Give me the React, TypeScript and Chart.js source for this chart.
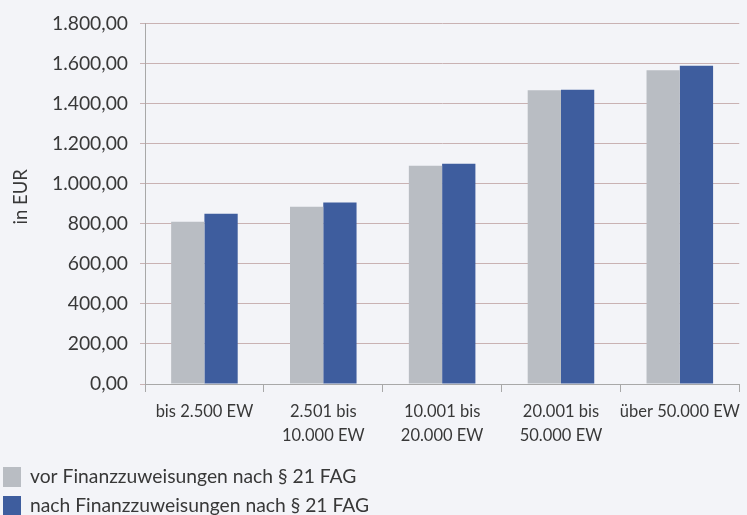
import React, { useEffect, useRef } from "react";
import { Chart, registerables } from "chart.js";

Chart.register(...registerables);

// Gemeindegrößenklassen
const categories: (string | string[])[] = [
  "bis 2.500 EW",
  ["2.501 bis", "10.000 EW"],
  ["10.001 bis", "20.000 EW"],
  ["20.001 bis", "50.000 EW"],
  "über 50.000 EW",
];

const seriesNames = [
  "vor Finanzzuweisungen nach § 21 FAG",
  "nach Finanzzuweisungen nach § 21 FAG",
];

const yTitle = "in EUR";

// EUR je Einwohner
const vorValues = [810, 885, 1090, 1467, 1567];
const nachValues = [850, 907, 1100, 1470, 1590];

const yMin = 0;
const yMax = 1800;
const yStep = 200;

const GREY = "#b9bdc3";
const BLUE = "#3e5d9e";
const TEXT = "#383838";
const FONT = "Lato, 'Open Sans', sans-serif";

function formatDe(v: number): string {
  const fixed = Math.abs(v).toFixed(2);
  const [intPart, dec] = fixed.split(".");
  const grouped = intPart.replace(/\B(?=(\d{3})+(?!\d))/g, ".");
  return (v < 0 ? "-" : "") + grouped + "," + dec;
}

// Draws the legend as a vertical list in the lower left corner
const bottomLegend = {
  id: "bottomLegend",
  afterDraw(chart: Chart) {
    const ctx = chart.ctx;
    const colors = chart.data.datasets.map((d) => d.backgroundColor as string);
    const labels = chart.data.datasets.map((d) => d.label as string);
    ctx.save();
    ctx.font = `19.3px ${FONT}`;
    ctx.textBaseline = "middle";
    ctx.textAlign = "left";
    labels.forEach((label, i) => {
      const cy = 477 + i * 29;
      ctx.fillStyle = colors[i];
      ctx.fillRect(3, cy - 10, 18, 20);
      ctx.fillStyle = TEXT;
      ctx.fillText(label, 30, cy);
    });
    ctx.restore();
  },
};

// Rotated unit label beside the value axis
const unitLabel = {
  id: "unitLabel",
  afterDraw(chart: Chart) {
    const ctx = chart.ctx;
    const area = chart.chartArea;
    ctx.save();
    ctx.font = `18.5px ${FONT}`;
    ctx.fillStyle = TEXT;
    ctx.textAlign = "center";
    ctx.textBaseline = "middle";
    ctx.translate(21.5, (area.top + area.bottom) / 2 - 7);
    ctx.rotate(-Math.PI / 2);
    ctx.fillText(yTitle, 0, 0);
    ctx.restore();
  },
};

// Soft paper background
const paperBackground = {
  id: "paperBackground",
  beforeDraw(chart: Chart) {
    const ctx = chart.ctx;
    ctx.save();
    ctx.fillStyle = "#f3f4f8";
    ctx.fillRect(0, 0, chart.width, chart.height);
    ctx.restore();
  },
};

export default function App() {
  const canvasRef = useRef<HTMLCanvasElement | null>(null);

  useEffect(() => {
    const canvas = canvasRef.current;
    if (!canvas) return;
    const chart = new Chart(canvas, {
      type: "bar",
      data: {
        labels: categories,
        datasets: [
          {
            label: seriesNames[0],
            data: vorValues,
            backgroundColor: GREY,
            categoryPercentage: 0.56,
            barPercentage: 1,
          },
          {
            label: seriesNames[1],
            data: nachValues,
            backgroundColor: BLUE,
            categoryPercentage: 0.56,
            barPercentage: 1,
          },
        ],
      },
      options: {
        responsive: false,
        animation: false,
        devicePixelRatio: 1,
        layout: { padding: { left: 0, right: 2, top: 21, bottom: 0 } },
        plugins: {
          legend: { display: false },
          tooltip: { enabled: false },
        },
        scales: {
          x: {
            grid: {
              display: true,
              drawOnChartArea: false,
              drawTicks: true,
              tickLength: 8,
              color: "#a8a8a8",
              offset: true,
            },
            border: { display: true, color: "#a8a8a8", width: 1 },
            ticks: {
              color: TEXT,
              font: { family: FONT, size: 16.5, lineHeight: 1.5 },
              padding: 7,
              maxRotation: 0,
              autoSkip: false,
            },
            afterFit(scale: any) {
              scale.height = 131;
            },
          },
          y: {
            min: yMin,
            max: yMax,
            grid: {
              color: "#c9b2b3",
              lineWidth: 1,
              tickLength: 5,
            },
            border: { display: true, color: "#a8a8a8", width: 1 },
            ticks: {
              stepSize: yStep,
              color: TEXT,
              padding: 12,
              font: { family: FONT, size: 19.3 },
              callback: (v: any) => formatDe(Number(v)),
            },
            afterFit(scale: any) {
              scale.width = 145;
            },
          },
        },
      },
      plugins: [paperBackground, unitLabel, bottomLegend],
    });
    return () => chart.destroy();
  }, []);

  return (
    <div style={{ position: "fixed", left: 0, top: 0, width: 747, height: 515, background: "#f3f4f8" }}>
      <canvas ref={canvasRef} width={747} height={515} style={{ display: "block", width: 747, height: 515 }} />
    </div>
  );
}
